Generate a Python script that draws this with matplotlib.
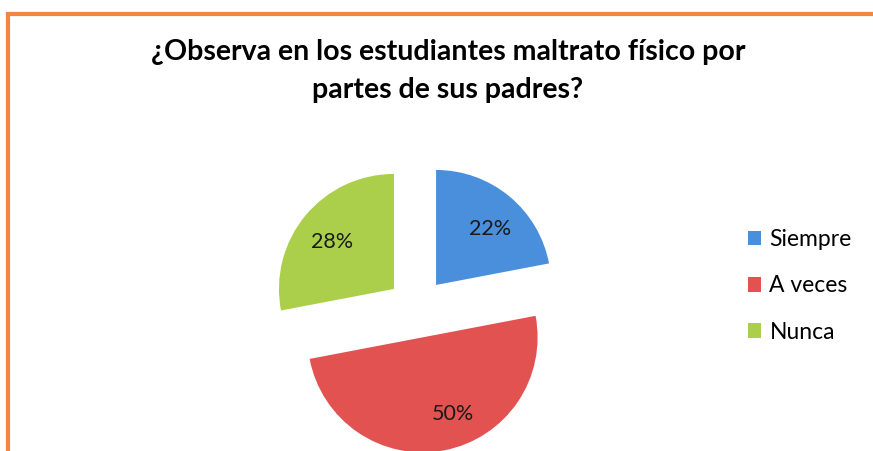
"""
Pie chart: ¿Observa en los estudiantes maltrato físico por partes de sus padres?
"""

import matplotlib
matplotlib.use("Agg")
import matplotlib.pyplot as plt
from matplotlib.patches import Rectangle, Patch

categories = ["Siempre", "A veces", "Nunca"]
values = [22, 50, 28]
colors = ["#4a8fdb", "#e25250", "#abcf4b"]
title = "¿Observa en los estudiantes maltrato físico por\npartes de sus padres?"

plt.rcParams["font.family"] = ["Lato", "DejaVu Sans"]

W, H = 873, 451
fig = plt.figure(figsize=(W / 100, H / 100), dpi=100)
fig.patch.set_facecolor("white")

# orange frame (only top and left edges visible in the crop)
fig.patches.append(Rectangle((8 / W, -0.2), 1.2, 1.2 + (H - 14) / H - 1.0,
                             transform=fig.transFigure, fill=False,
                             edgecolor="#f2853f", linewidth=3))

fig.text(448 / W, 1 - 71 / H, title, ha="center", va="center",
         fontsize=20.5, fontweight="bold", linespacing=1.6)

# pie axes: centre (417, 308) px, radius 115 px
r_px = 115
L = 1.5
side = 2 * L * r_px
cx, cy = 417, 308
ax = fig.add_axes([(cx - side / 2) / W, (H - cy - side / 2) / H, side / W, side / H])
wedges, texts, autotexts = ax.pie(
    values, colors=colors, startangle=90, counterclock=False,
    explode=[0.26] * 3, autopct="%1.0f%%", pctdistance=0.7,
    textprops=dict(fontsize=15.5, color="#1a1a1a"))
# small nudges so labels sit where the original puts them
for t, (dx, dy) in zip(autotexts, [(0.02, -0.05), (0.13, 0.02), (0.0, -0.04)]):
    x, y = t.get_position()
    t.set_position((x + dx, y + dy))
ax.set_xlim(-L, L)
ax.set_ylim(-L, L)
ax.set_aspect("equal")
ax.axis("off")

handles = [Patch(facecolor=c, edgecolor="none") for c in colors]
fig.legend(handles, categories, loc="center left",
           bbox_to_anchor=(727 / W, 1 - 286 / H), frameon=False,
           fontsize=16.5, handlelength=0.6, handleheight=0.6,
           handletextpad=0.35, labelspacing=1.1)

fig.savefig("out.png", dpi=100)
plt.close(fig)
